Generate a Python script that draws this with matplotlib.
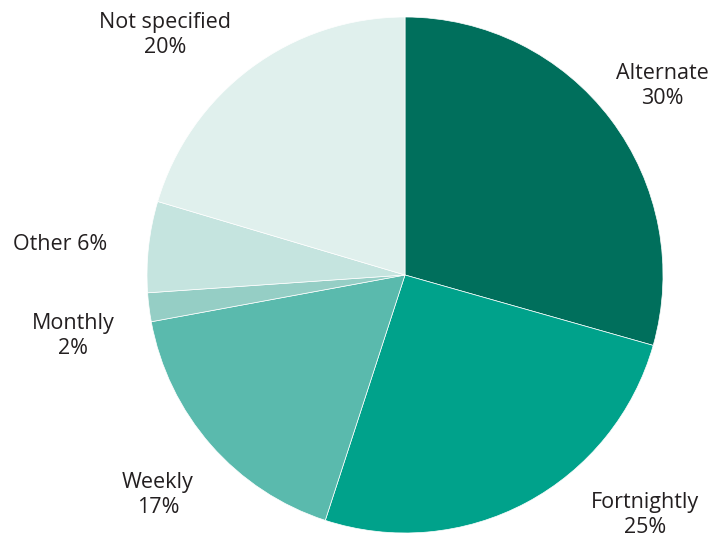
import matplotlib
matplotlib.use('Agg')
import matplotlib.pyplot as plt

# Data (slice sizes; labels as printed)
categories = ['Alternate', 'Fortnightly', 'Weekly', 'Monthly', 'Other', 'Not specified']
shares = [29.4, 25.6, 17.1, 1.8, 5.7, 20.4]
colors = ['#006f5c', '#00a28b', '#5abaad', '#95cec5', '#c5e4df', '#e0f0ed']
label_texts = ['Alternate\n30%', 'Fortnightly\n25%', 'Weekly\n17%',
               'Monthly\n2%', 'Other 6%', 'Not specified\n20%']

W, H = 712, 542
fig = plt.figure(figsize=(W / 100, H / 100), dpi=100)

# pie centre and radius in pixels
cx, cy, r = 405, 275, 258
ax = fig.add_axes([(cx - r) / W, (H - cy - r) / H, 2 * r / W, 2 * r / H])
ax.pie(shares, colors=colors, startangle=90, counterclock=False, radius=1,
       wedgeprops=dict(edgecolor='white', linewidth=0.5))
ax.set_xlim(-1, 1)
ax.set_ylim(-1, 1)
ax.axis('off')

# label positions (pixel centres)
label_pos = [(662, 86), (645, 515), (158, 495), (73, 336), (60, 245), (165, 35)]
for txt, (px, py) in zip(label_texts, label_pos):
    fig.text(px / W, 1 - py / H, txt, ha='center', va='center',
             fontsize=15.5, family='Open Sans', color='#231f20', linespacing=1.22)

fig.savefig('out.png', dpi=100)
